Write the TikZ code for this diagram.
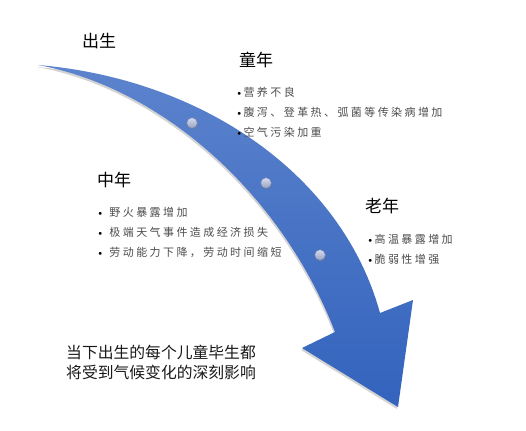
\documentclass[tikz,border=0pt]{standalone}
\usepackage{fontspec}
\usepackage{tikz}
\usetikzlibrary{shadows}
\newfontfamily\cjk{Noto Sans CJK SC}
\newfontfamily\cjklist[LetterSpace=22]{Noto Sans CJK SC}
\newcommand\bul{{\rmfamily\color{black}\textbullet}}
\definecolor{arrowtop}{HTML}{5C83CD}
\definecolor{arrowbottom}{HTML}{3363BD}
\definecolor{dotblue}{HTML}{B2BDE4}

\begin{document}
\begin{tikzpicture}[x = 1pt, y = -1pt]
        \tikzset{stage/.style = {font=\cjk\fontsize{17}{17}\selectfont, inner sep=0pt}}
        \tikzset{items/.style = {font=\cjklist\fontsize{11}{20}\selectfont, text=black!70, align=left, anchor=north west, inner sep=0pt}}
        \tikzset{milestone/.style = {shape=circle, top color=dotblue!55!white, bottom color=dotblue!85!black, draw=dotblue!70!black, line width=0.3pt,
                minimum size=10.5pt, inner sep=0pt, drop shadow={opacity=0.45, shadow xshift=0.5pt, shadow yshift=-1pt}}}
        \useasboundingbox (0,0) rectangle (526,430);
        % arrow
        \path[top color=arrowtop, bottom color=arrowbottom,
                drop shadow={opacity=0.35, shadow xshift=-1pt, shadow yshift=-2pt}]
                (38,65) .. controls (203,79) and (342,175) .. (380,313)
                -- (413,300) -- (398,407) -- (302,348) -- (335,332)
                .. controls (282,195) and (163,88) .. (38,65)
                -- cycle;
        % milestones
        \node[milestone] (m1) at (192,123) {};
        \node[milestone] (m2) at (266,183) {};
        \node[milestone] (m3) at (320,255) {};
        % stages
        \node[stage] (birth) at (99,41) {出生};
        \node[stage] (child) at (256,60) {童年};
        \node[stage] (middle) at (114,180) {中年};
        \node[stage] (old) at (382,206) {老年};
        % impacts
        \node[items] (childlist) at (235,86.5) {\bul{}营养不良\\\bul{}腹泻、登革热、弧菌等传染病增加\\\bul{}空气污染加重};
        \node[items] (middlelist) at (96,207.5) {\bul\ 野火暴露增加\\\bul\ 极端天气事件造成经济损失\\\bul\ 劳动能力下降，劳动时间缩短};
        \node[items] (oldlist) at (366,234.5) {\bul{}高温暴露增加\\\bul{}脆弱性增强};
        % summary
        \node[font=\cjk\fontsize{15.8}{20}\selectfont, text=black!90, align=left, anchor=north west, inner sep=0pt] (summary) at (66,345)
                {当下出生的每个儿童毕生都\\将受到气候变化的深刻影响};
\end{tikzpicture}
\end{document}
